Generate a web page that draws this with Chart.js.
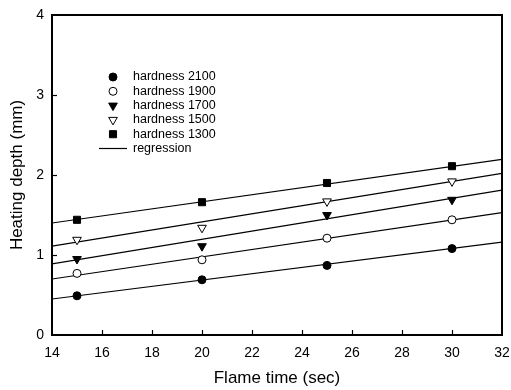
<!DOCTYPE html>
<html>
<head>
<meta charset="utf-8">
<script src="https://cdn.jsdelivr.net/npm/chart.js@4"></script>
<style>
  html, body { margin: 0; padding: 0; background: #fff; }
</style>
</head>
<body>
<canvas id="chart" width="511" height="390"></canvas>
<script>
// Valores
const flameTimes = [15, 20, 25, 30];
const hardness2100 = [0.49, 0.69, 0.87, 1.08];
const hardness1900 = [0.77, 0.94, 1.21, 1.44];
const hardness1700 = [0.95, 1.11, 1.50, 1.69];
const hardness1500 = [1.19, 1.34, 1.67, 1.92];
const hardness1300 = [1.44, 1.66, 1.90, 2.11];

// Retas de regressão (extremos em x = 14 e x = 32)
const regressionX = [14, 32];
const reg2100 = [0.45, 1.16];
const reg1900 = [0.70, 1.53];
const reg1700 = [0.89, 1.81];
const reg1500 = [1.11, 2.02];
const reg1300 = [1.40, 2.195];

const FONT = '"Liberation Sans", Arial, sans-serif';

const toPoints = (xs, ys) => xs.map((x, i) => ({ x: x, y: ys[i] }));

function pointSet(label, values, style, filled, radius, rotation) {
  return {
    type: 'scatter',
    label: label,
    data: toPoints(flameTimes, values),
    pointStyle: style,
    pointRadius: radius,
    pointRotation: rotation || 0,
    pointBackgroundColor: filled ? '#000' : '#fff',
    pointBorderColor: '#000',
    pointBorderWidth: 1,
    showLine: false,
    order: 0
  };
}

function regSet(label, values) {
  return {
    type: 'line',
    label: label,
    data: toPoints(regressionX, values),
    borderColor: '#000',
    borderWidth: 1.2,
    pointRadius: 0,
    tension: 0,
    order: 1
  };
}

// Moldura + marcas de escala para dentro
const frameAndTicks = {
  id: 'frameAndTicks',
  afterDraw(chart) {
    const { ctx, chartArea: a, scales } = chart;
    ctx.save();
    ctx.strokeStyle = '#000';
    ctx.lineWidth = 2;
    ctx.strokeRect(a.left, a.top, a.right - a.left, a.bottom - a.top);
    ctx.lineWidth = 1.2;
    scales.x.ticks.forEach(t => {
      if (t.value <= scales.x.min || t.value >= scales.x.max) return;
      const px = Math.round(scales.x.getPixelForValue(t.value)) + 0.5;
      ctx.beginPath(); ctx.moveTo(px, a.bottom); ctx.lineTo(px, a.bottom - 5); ctx.stroke();
    });
    scales.y.ticks.forEach(t => {
      if (t.value <= scales.y.min || t.value >= scales.y.max) return;
      const py = Math.round(scales.y.getPixelForValue(t.value)) + 0.5;
      ctx.beginPath(); ctx.moveTo(a.left, py); ctx.lineTo(a.left + 5, py); ctx.stroke();
    });
    ctx.restore();
  }
};

// Legenda dentro da área do gráfico
const insideLegend = {
  id: 'insideLegend',
  afterDatasetsDraw(chart) {
    const { ctx, chartArea: a } = chart;
    const markerX = a.left + 61;
    const textX = a.left + 81;
    const y0 = a.top + 62;
    const step = 14.3;
    ctx.save();
    ctx.font = '12.5px ' + FONT;
    ctx.textBaseline = 'middle';
    ctx.fillStyle = '#000';
    let row = 0;
    chart.data.datasets.forEach(ds => {
      if (!ds.label) return;
      const y = y0 + row * step;
      if (ds.type === 'scatter') {
        ctx.fillStyle = ds.pointBackgroundColor;
        ctx.strokeStyle = '#000';
        ctx.lineWidth = 1;
        Chart.helpers.drawPoint(ctx, {
          pointStyle: ds.pointStyle,
          radius: ds.pointRadius,
          rotation: ds.pointRotation,
          borderWidth: 1
        }, markerX, y);
      } else {
        ctx.strokeStyle = '#000';
        ctx.lineWidth = 1.2;
        ctx.beginPath(); ctx.moveTo(a.left + 47, y); ctx.lineTo(a.left + 75, y); ctx.stroke();
      }
      ctx.fillStyle = '#000';
      ctx.fillText(ds.label, textX, y);
      row++;
    });
    ctx.restore();
  }
};

new Chart(document.getElementById('chart'), {
  data: {
    datasets: [
      pointSet('hardness 2100', hardness2100, 'circle', true, 4, 0),
      pointSet('hardness 1900', hardness1900, 'circle', false, 4, 0),
      pointSet('hardness 1700', hardness1700, 'triangle', true, 5, 180),
      pointSet('hardness 1500', hardness1500, 'triangle', false, 5, 180),
      pointSet('hardness 1300', hardness1300, 'rect', true, 5, 0),
      regSet('regression', reg2100),
      regSet('', reg1900),
      regSet('', reg1700),
      regSet('', reg1500),
      regSet('', reg1300)
    ]
  },
  options: {
    responsive: false,
    animation: false,
    layout: { padding: { top: 15, right: 9, left: 0, bottom: 0 } },
    plugins: { legend: { display: false }, tooltip: { enabled: false } },
    scales: {
      x: {
        type: 'linear',
        min: 14,
        max: 32,
        afterFit: s => { s.height = 55; },
        ticks: { stepSize: 2, color: '#000', padding: 0, font: { family: FONT, size: 14 } },
        grid: { display: false, drawTicks: true, tickLength: 10 },
        border: { display: false },
        title: { display: true, text: 'Flame time (sec)', color: '#000', padding: { top: 0, bottom: 1 }, font: { family: FONT, size: 17 } }
      },
      y: {
        type: 'linear',
        min: 0,
        max: 4,
        afterFit: s => { s.width = 52; },
        ticks: { stepSize: 1, color: '#000', padding: 0, font: { family: FONT, size: 14 } },
        grid: { display: false, drawTicks: true, tickLength: 8 },
        border: { display: false },
        title: { display: true, text: 'Heating depth (mm)', color: '#000', padding: { top: 7, bottom: 0 }, font: { family: FONT, size: 17 } }
      }
    }
  },
  plugins: [frameAndTicks, insideLegend]
});
</script>
</body>
</html>
